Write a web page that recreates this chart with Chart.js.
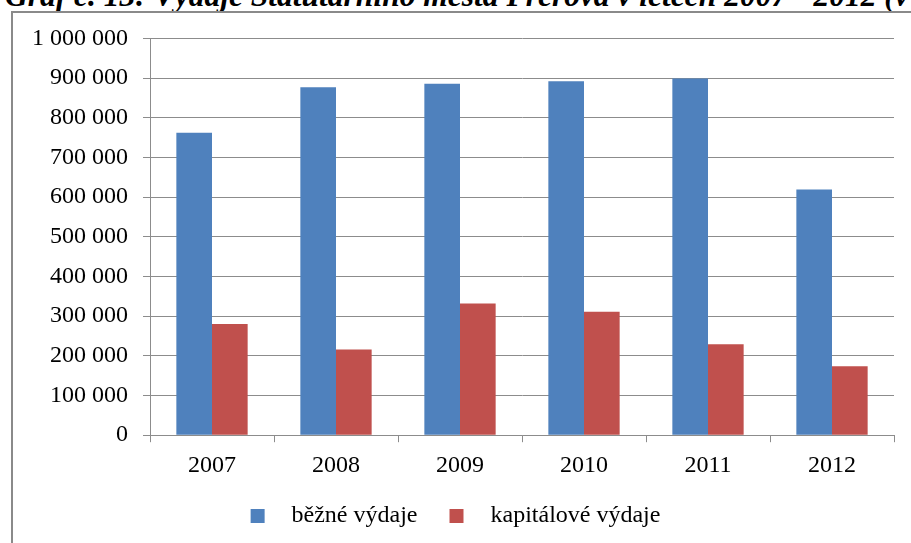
<!DOCTYPE html>
<html><head><meta charset="utf-8">
<script src="https://cdn.jsdelivr.net/npm/chart.js@4.4.1/dist/chart.umd.min.js"></script>
<style>
html,body{margin:0;padding:0;background:#fff;width:911px;height:543px;overflow:hidden;position:relative}
#title{position:absolute;left:5px;top:-20px;font:bold italic 31.5px/31.5px "Liberation Serif";white-space:nowrap;color:#000}
#frame{position:absolute;left:11px;top:11px;width:1000px;height:1000px;border:2px solid #8a8a8a;background:#fff}
#wrap{position:absolute;left:0;top:9px;width:911px;height:534px}
</style></head><body>
<div id="title">Graf č. 13: Výdaje Statutárního města Přerova v letech 2007 - 2012 (v tis. Kč)</div>
<div id="frame"></div>
<div id="wrap"><canvas id="c" width="911" height="534"></canvas></div>
<script>
const years = ['2007', '2008', '2009', '2010', '2011', '2012'];
const bezneVydaje = [762000, 877000, 886000, 892000, 899000, 619000];
const kapitaloveVydaje = [280000, 216000, 332000, 311000, 229000, 174000];
const seriesNames = ['běžné výdaje', 'kapitálové výdaje'];
const seriesColors = ['#4F81BD', '#C0504D'];

function legendSwatch(color) {
  const cv = document.createElement('canvas');
  cv.width = 46; cv.height = 14;
  const g = cv.getContext('2d');
  g.fillStyle = color;
  g.fillRect(17, 0, 14, 14);
  return cv;
}
const swatches = seriesColors.map(legendSwatch);
const fmt = v => String(v).replace(/\B(?=(\d{3})+(?!\d))/g, ' ');

new Chart(document.getElementById('c'), {
  type: 'bar',
  data: {
    labels: years,
    datasets: [
      { label: seriesNames[0], data: bezneVydaje, backgroundColor: seriesColors[0] },
      { label: seriesNames[1], data: kapitaloveVydaje, backgroundColor: seriesColors[1] }
    ]
  },
  options: {
    responsive: false,
    animation: false,
    devicePixelRatio: 1,
    layout: { padding: { left: 0, right: 17, top: 21, bottom: 5 } },
    datasets: { bar: { categoryPercentage: 0.575, barPercentage: 1 } },
    scales: {
      x: {
        grid: { drawOnChartArea: false, offset: true, tickLength: 7, color: '#8c8c8c' },
        border: { color: '#8c8c8c' },
        ticks: { font: { family: 'Liberation Serif', size: 24 }, color: '#000', padding: 9 }
      },
      y: {
        min: 0, max: 1000000,
        afterFit: s => { s.width = 150; },
        grid: { tickLength: 7, color: '#8c8c8c' },
        border: { color: '#8c8c8c' },
        ticks: { stepSize: 100000, font: { family: 'Liberation Serif', size: 24 }, color: '#000', padding: 15, callback: v => fmt(v) }
      }
    },
    plugins: {
      tooltip: { enabled: false },
      legend: {
        position: 'bottom',
        labels: {
          usePointStyle: true,
          pointStyleWidth: 46,
          boxHeight: 14,
          padding: 15,
          color: '#000',
          font: { family: 'Liberation Serif', size: 24 },
          generateLabels: chart => chart.data.datasets.map((d, i) => ({
            text: d.label, fillStyle: seriesColors[i], strokeStyle: seriesColors[i],
            lineWidth: 0, pointStyle: swatches[i], datasetIndex: i, hidden: false
          }))
        }
      }
    }
  }
});
</script>
</body></html>
